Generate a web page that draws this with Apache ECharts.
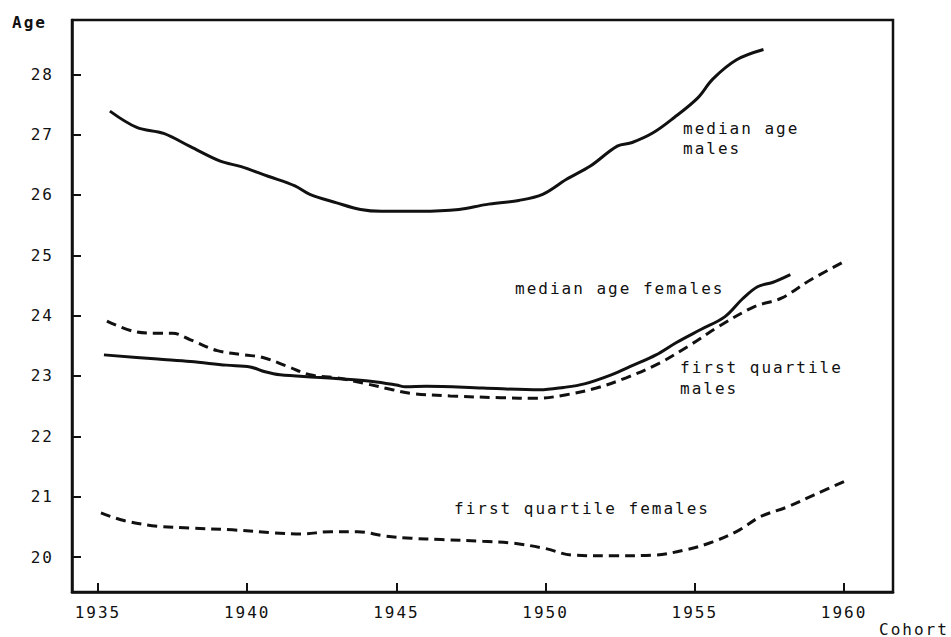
<!DOCTYPE html>
<html>
<head>
<meta charset="utf-8">
<script src="https://cdn.jsdelivr.net/npm/echarts@6/dist/echarts.min.js"></script>
<style>
html, body { margin: 0; padding: 0; background: #fff; }
#chart { width: 951px; height: 637px; }
/* typewriter look: wide letter spacing on all svg text */
#chart text { letter-spacing: 2px; }
</style>
</head>
<body>
<div id="chart"></div>
<script>
// tick labels
const yearTicks = [1935, 1940, 1945, 1950, 1955, 1960];
const ageTicks = [20, 21, 22, 23, 24, 25, 26, 27, 28];

// [cohort, age]
const medianMales = [
  [1935.4, 27.39], [1936.3, 27.12], [1937.2, 27.02], [1938.1, 26.80], [1939.1, 26.56],
  [1939.8, 26.47], [1940.7, 26.31], [1941.6, 26.15], [1942.1, 26.01], [1943.0, 25.87],
  [1943.8, 25.76], [1944.5, 25.73], [1945.8, 25.73], [1947.1, 25.76], [1948.0, 25.84],
  [1949.1, 25.91], [1949.9, 26.01], [1950.7, 26.26], [1951.5, 26.48], [1952.4, 26.81],
  [1952.9, 26.87], [1953.6, 27.03], [1954.3, 27.28], [1955.1, 27.61], [1955.6, 27.92],
  [1956.4, 28.24], [1957.3, 28.41]
];
const medianFemales = [
  [1935.2, 23.35], [1937.0, 23.28], [1938.1, 23.24], [1939.3, 23.18], [1940.1, 23.15],
  [1940.6, 23.07], [1941.1, 23.02], [1942.3, 22.98], [1943.2, 22.95], [1944.2, 22.91],
  [1945.0, 22.85], [1945.3, 22.82], [1946.0, 22.83], [1947.9, 22.80], [1949.8, 22.77],
  [1950.6, 22.81], [1951.3, 22.87], [1952.2, 23.02], [1952.9, 23.17], [1953.7, 23.35],
  [1954.4, 23.56], [1955.2, 23.77], [1956.0, 23.98], [1956.6, 24.28], [1957.1, 24.48],
  [1957.6, 24.55], [1958.2, 24.68]
];
const quartileMales = [
  [1935.3, 23.91], [1936.2, 23.74], [1937.0, 23.71], [1937.5, 23.71], [1938.1, 23.60],
  [1939.0, 23.42], [1939.9, 23.35], [1940.5, 23.31], [1941.3, 23.17], [1942.1, 23.02],
  [1943.0, 22.97], [1944.0, 22.87], [1944.8, 22.78], [1945.5, 22.71], [1946.8, 22.67],
  [1948.5, 22.64], [1949.7, 22.63], [1950.7, 22.69], [1951.7, 22.80], [1952.7, 22.97],
  [1953.8, 23.21], [1954.8, 23.50], [1955.8, 23.82], [1957.0, 24.15], [1957.9, 24.29],
  [1958.9, 24.60], [1960.1, 24.92]
];
const quartileFemales = [
  [1935.1, 20.73], [1935.9, 20.60], [1937.0, 20.51], [1938.1, 20.48], [1939.5, 20.45],
  [1940.9, 20.40], [1941.8, 20.38], [1942.8, 20.42], [1943.7, 20.42], [1944.6, 20.35],
  [1945.5, 20.31], [1946.5, 20.29], [1947.9, 20.26], [1948.9, 20.23], [1950.0, 20.14],
  [1950.9, 20.03], [1952.3, 20.02], [1953.6, 20.03], [1954.7, 20.12], [1955.6, 20.25],
  [1956.5, 20.45], [1957.2, 20.67], [1958.1, 20.83], [1959.0, 21.03], [1960.0, 21.25]
];

const ink = '#111';
const mono = '"DejaVu Sans Mono", monospace';

const chart = echarts.init(document.getElementById('chart'), null, { renderer: 'svg' });

function curve(name, data, dashed) {
  return {
    name: name,
    type: 'line',
    data: data,
    smooth: 0.35,
    showSymbol: false,
    silent: true,
    lineStyle: { color: ink, width: 3, type: dashed ? [10, 6] : 'solid' }
  };
}

function note(text, x, y, bold) {
  return {
    type: 'text',
    x: x,
    y: y,
    silent: true,
    style: {
      text: text,
      fill: ink,
      font: (bold ? 'bold ' : '') + '16px ' + mono,
      textVerticalAlign: 'middle'
    }
  };
}

chart.setOption({
  backgroundColor: '#fff',
  animation: false,
  grid: {
    left: 72, right: 58, top: 20, bottom: 45,
    show: true, borderColor: ink, borderWidth: 2.5, backgroundColor: 'transparent'
  },
  xAxis: {
    type: 'value',
    min: 1934.13,
    max: 1961.64,
    splitLine: { show: false },
    axisLine: { show: true, lineStyle: { color: ink, width: 2.5 } },
    axisTick: { show: true, inside: true, length: 9, lineStyle: { color: ink, width: 2 }, customValues: yearTicks },
    axisLabel: {
      color: ink, fontFamily: mono, fontSize: 16, margin: 12, customValues: yearTicks,
      formatter: v => String(v)
    }
  },
  yAxis: {
    type: 'value',
    min: 19.42,
    max: 28.9,
    splitLine: { show: false },
    axisLine: { show: true, lineStyle: { color: ink, width: 2.5 } },
    axisTick: { show: true, inside: true, length: 9, lineStyle: { color: ink, width: 2 }, customValues: ageTicks },
    axisLabel: { color: ink, fontFamily: mono, fontSize: 16, margin: 18, customValues: ageTicks, formatter: v => String(v) }
  },
  series: [
    curve('median age males', medianMales, false),
    curve('median age females', medianFemales, false),
    curve('first quartile males', quartileMales, true),
    curve('first quartile females', quartileFemales, true)
  ],
  graphic: [
    note('Age', 12, 22, true),
    note('Cohort', 879, 629, false),
    note('median age', 683, 128),
    note('males', 683, 148),
    note('median age females', 515, 288),
    note('first quartile', 680, 367),
    note('males', 680, 388),
    note('first quartile females', 454, 508)
  ]
});
</script>
</body>
</html>
